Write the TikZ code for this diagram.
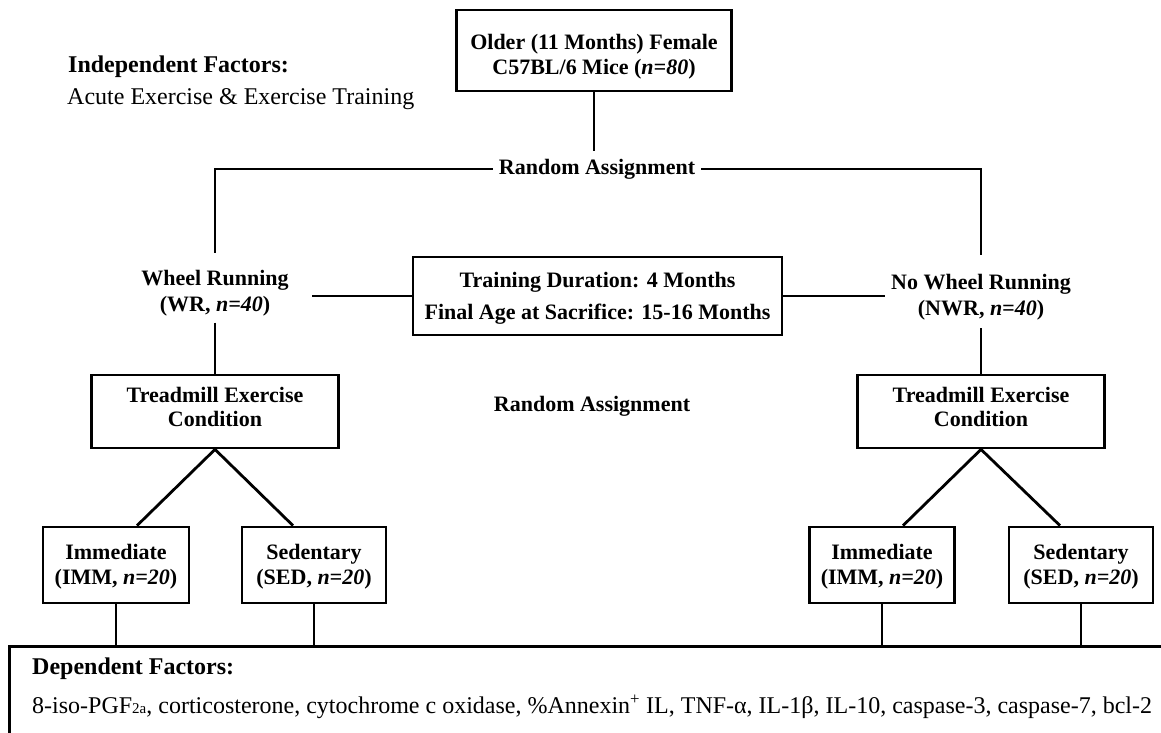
\documentclass[tikz,border=0pt]{standalone}
\usepackage{fontspec}
\setmainfont{Liberation Serif}

\begin{document}
\begin{tikzpicture}[x=1pt,y=-1pt,
  box/.style={draw,line width=2.8pt,inner sep=0pt,align=center,font=\bfseries\fontsize{22}{25}\selectfont},
  lbl/.style={inner sep=0pt,align=center,font=\bfseries\fontsize{22}{26}\selectfont},
  pad/.style 2 args={execute at begin node={\rule{0pt}{#1pt}},execute at end node={\rule[-#2pt]{0pt}{#2pt}}},
  note/.style={anchor=west,inner sep=0pt,font=\fontsize{24}{28}\selectfont},
  link/.style={line width=2.8pt}]
\useasboundingbox (0,0) rectangle (1161,732);
% factors
\node[note,font=\bfseries\fontsize{24}{28}\selectfont] (indttl) at (68,67) {Independent Factors:};
\node[note] (indlist) at (67,99) {Acute Exercise \& Exercise Training};
% top of the tree
\node[box,pad={53}{5},minimum width=275pt,minimum height=81pt] (mice) at (594,50.5) {Older (11 Months) Female\\C57BL/6 Mice (\textit{n=80})};
\node[lbl,inner xsep=6pt,inner ysep=8pt] (ra1) at (597,169) {Random Assignment};
\draw[link] (mice.south) -- (mice.south |- ra1.north);
% wheel groups
\node[lbl,pad={52}{5},minimum width=194pt,minimum height=69pt] (wr) at (215,288) {Wheel Running\\(WR, \textit{n=40})};
\node[lbl,pad={52}{5},minimum width=191pt,minimum height=73pt] (nwr) at (981,291.5) {No Wheel Running\\(NWR, \textit{n=40})};
\draw[link] (ra1.west) -| (wr.north);
\draw[link] (ra1.east) -| (nwr.north);
\node[box,pad={51}{5},minimum width=369pt,minimum height=78pt,font=\bfseries\fontsize{22}{32}\selectfont] (dur) at (597.5,296) {Training Duration: 4 Months\\Final Age at Sacrifice: 15-16 Months};
\draw[link] (wr.east |- dur.west) -- (dur.west);
\draw[link] (dur.east) -- (nwr.west |- dur.east);
% treadmill
\node[box,pad={0}{9},minimum width=247pt,minimum height=73pt,font=\bfseries\fontsize{22}{24}\selectfont] (tm1) at (215,411.5) {Treadmill Exercise\\Condition};
\node[box,pad={0}{9},minimum width=247pt,minimum height=73pt,font=\bfseries\fontsize{22}{24}\selectfont] (tm2) at (981,411.5) {Treadmill Exercise\\Condition};
\draw[link] (wr.south) -- (tm1.north);
\draw[link] (nwr.south) -- (tm2.north);
\node[lbl] (ra2) at (592,406) {Random Assignment};
% groups
\node[box,pad={43}{5},minimum width=146pt,minimum height=76pt] (imm1) at (116,565) {Immediate\\(IMM, \textit{n=20})};
\node[box,pad={43}{5},minimum width=144pt,minimum height=76pt] (sed1) at (314,565) {Sedentary\\(SED, \textit{n=20})};
\node[box,pad={43}{5},minimum width=145pt,minimum height=76pt] (imm2) at (882,565) {Immediate\\(IMM, \textit{n=20})};
\node[box,pad={43}{5},minimum width=144pt,minimum height=76pt] (sed2) at (1081,565) {Sedentary\\(SED, \textit{n=20})};
\draw[link] (tm1.south) -- ([xshift=21pt]imm1.north);
\draw[link] (tm1.south) -- ([xshift=-21pt]sed1.north);
\draw[link] (tm2.south) -- ([xshift=21pt]imm2.north);
\draw[link] (tm2.south) -- ([xshift=-21pt]sed2.north);
% outcomes
\node[draw,line width=2.8pt,minimum width=1180pt,minimum height=120pt,anchor=north west,inner sep=0pt] (dep) at (8,645) {};
\foreach \g in {imm1,sed1,imm2,sed2}
  \draw[link] (\g.south) -- (\g.south |- dep.north);
\node[note,font=\bfseries\fontsize{24}{28}\selectfont] (depttl) at (32,669) {Dependent Factors:};
\node[note] (deplist) at (32,707) {8-iso-PGF{\fontsize{15}{15}\selectfont 2a}, corticosterone, cytochrome c oxidase, \%Annexin\textsuperscript{+} IL, TNF-α, IL-1β, IL-10, caspase-3, caspase-7, bcl-2};
\end{tikzpicture}
\end{document}
